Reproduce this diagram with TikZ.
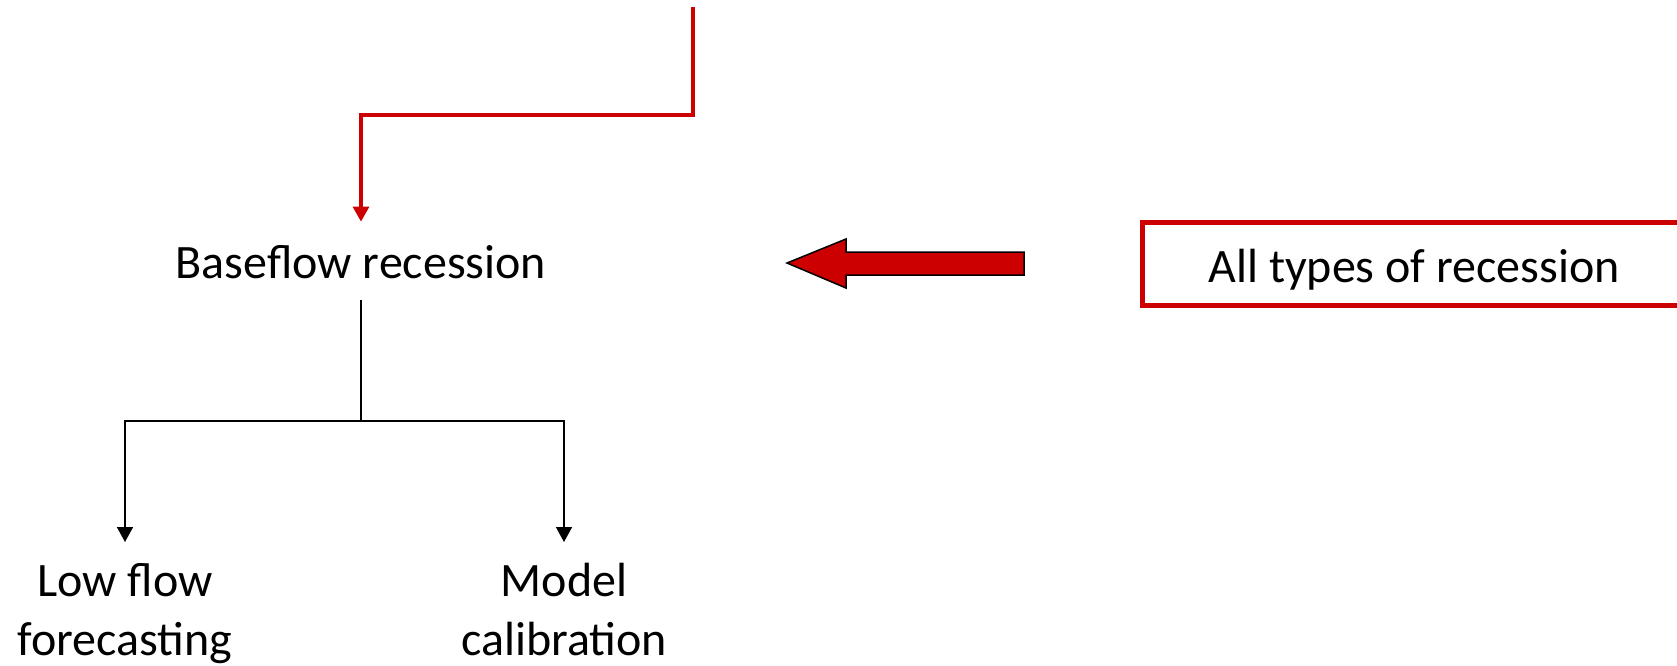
\documentclass[tikz,border=0pt]{standalone}
\usepackage{fontspec}
\setmainfont{Carlito}
\usetikzlibrary{arrows.meta}
\definecolor{dred}{RGB}{204,0,0}
\tikzset{
  lbl/.style={font=\fontsize{24}{29.5}\selectfont, align=center},
  redline/.style={draw=dred, line width=1.6pt, -{Triangle[length=7.5pt,width=8pt]}},
  blkline/.style={draw=black, line width=0.8pt, -{Triangle[length=7.5pt,width=8pt]}},
  bigarrow/.style={fill=dred, draw=black, line width=0.75pt, line join=miter},
  redbox/.style={draw=dred, line width=2.5pt}
}
\begin{document}
\begin{tikzpicture}[x=0.5pt,y=-0.5pt]
\useasboundingbox (0,0) rectangle (1677,665);
% nodes
\node[lbl, anchor=base, text height=19.5pt, text depth=2.5pt, inner ysep=8.5pt, inner xsep=0pt] (base) at (361,278) {Baseflow recession};
\node[lbl, anchor=north, inner xsep=0pt, inner ysep=10.5pt] (low) at (125,542) {Low flow\\forecasting};
\node[lbl, anchor=north, inner xsep=0pt, inner ysep=10.5pt] (model) at (564,542) {Model\\calibration};
\node[redbox, minimum width=274pt, minimum height=41.5pt, inner sep=0pt] (allbox) at (1416,263.5) {};
\node[lbl, anchor=base, inner sep=0pt] (all) at (1414,282) {All types of recession};
\coordinate (src) at (693,7);
\coordinate (split) at (361,421);
% red connector
\draw[redline] (src) -- (693,115) -| (base.north);
% black tree
\draw[line width=0.8pt] (base.south) -- (split);
\draw[blkline] (split) -| (low.north);
\draw[blkline] (split) -| (model.north);
% big block arrow
\draw[bigarrow] (787,263) -- (846,239) -- (846,252) -- (1024,252) -- (1024,275) -- (846,275) -- (846,288) -- cycle;
\end{tikzpicture}
\end{document}
